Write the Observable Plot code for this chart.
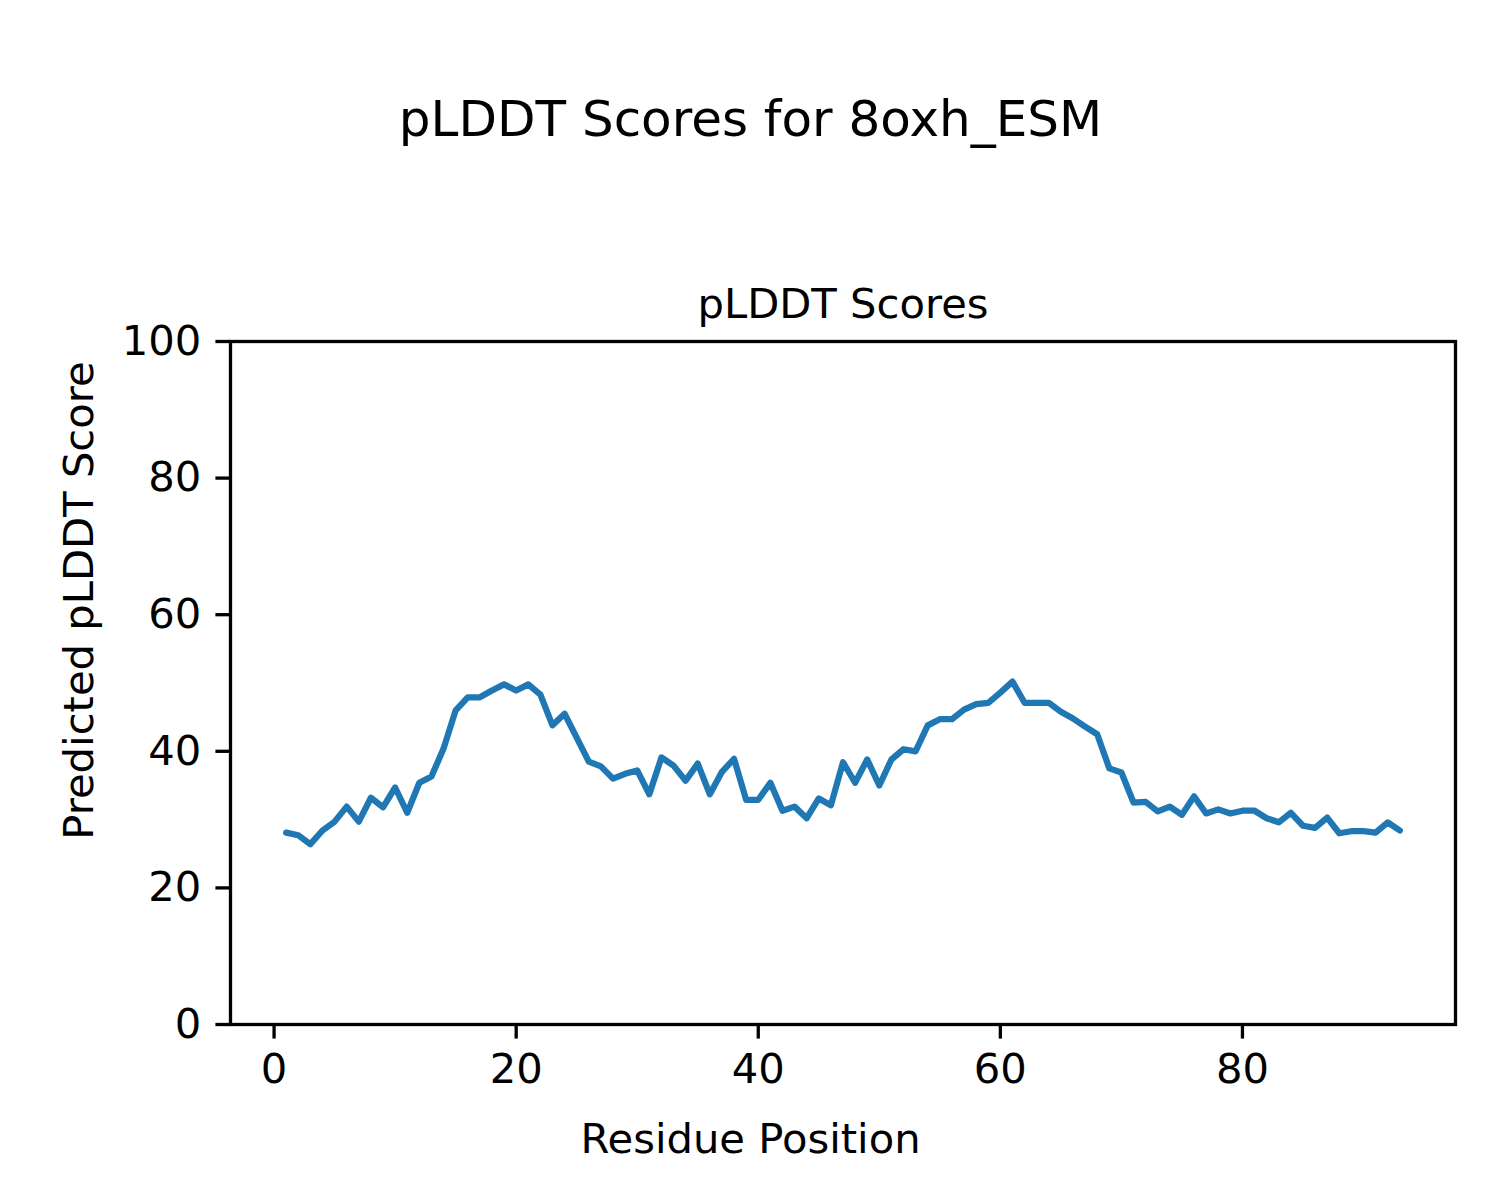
<!DOCTYPE html>
<html>
<head>
<meta charset="utf-8">
<script src="https://cdn.jsdelivr.net/npm/d3@7"></script>
<script src="https://cdn.jsdelivr.net/npm/@observablehq/plot@0.6"></script>
<style>
  html, body { margin: 0; padding: 0; background: #fff; }
  #chart svg { display: block; }
</style>
</head>
<body>
<div id="chart"></div>
<script>
// ---- data ----
const figureTitle = "pLDDT Scores for 8oxh_ESM";
const axesTitle = "pLDDT Scores";
const xLabel = "Residue Position";
const yLabel = "Predicted pLDDT Score";
const xTicks = [0, 20, 40, 60, 80];
const yTicks = [0, 20, 40, 60, 80, 100];
const plddt = [
  28.1, 27.7, 26.4, 28.4, 29.7, 31.9, 29.7, 33.2, 31.8, 34.7,
  31.0, 35.4, 36.3, 40.4, 46.0, 47.9, 47.9, 48.9, 49.8, 48.9,
  49.8, 48.3, 43.8, 45.5, 42.0, 38.5, 37.8, 36.0, 36.7, 37.2,
  33.7, 39.1, 37.9, 35.7, 38.2, 33.7, 37.0, 38.9, 32.9, 32.9,
  35.4, 31.3, 31.9, 30.2, 33.1, 32.1, 38.4, 35.4, 38.8, 35.0,
  38.8, 40.3, 40.0, 43.8, 44.7, 44.7, 46.1, 46.9, 47.1, 48.6,
  50.2, 47.1, 47.1, 47.1, 45.8, 44.8, 43.6, 42.5, 37.5, 36.9,
  32.5, 32.6, 31.2, 31.9, 30.7, 33.4, 30.9, 31.5, 30.9, 31.3,
  31.3, 30.2, 29.6, 31.0, 29.1, 28.8, 30.3, 28.0, 28.3, 28.3,
  28.1, 29.6, 28.4
];
const residues = plddt.map((_, i) => i + 1);

// ---- chart ----
const data = residues.map((r, i) => ({residue: r, score: plddt[i]}));
const fs = 41.7;
const chart = Plot.plot({
  width: 1500,
  height: 1200,
  marginLeft: 230,
  marginRight: 45,
  marginTop: 341,
  marginBottom: 176,
  style: {fontFamily: "DejaVu Sans", fontSize: fs + "px", color: "#000", background: "#fff"},
  x: {domain: [-3.6, 97.6]},
  y: {domain: [0, 100]},
  marks: [
    Plot.axisX({ticks: xTicks, tickSize: 14.6, tickPadding: 14.6, strokeWidth: 3.3, fontSize: fs, label: null}),
    Plot.axisY({ticks: yTicks, tickSize: 14.6, tickPadding: 14.6, strokeWidth: 3.3, fontSize: fs, label: null}),
    Plot.line(data, {x: "residue", y: "score", stroke: "#1f77b4", strokeWidth: 6.25}),
    Plot.frame({stroke: "#000", strokeWidth: 3.3}),
    Plot.text([figureTitle], {frameAnchor: "top", dx: -92.5, dy: -206, lineAnchor: "bottom", textAnchor: "middle", fontSize: 50, fill: "#000"}),
    Plot.text([axesTitle], {frameAnchor: "top", dy: -24, lineAnchor: "bottom", textAnchor: "middle", fontSize: fs, fill: "#000"}),
    Plot.text([xLabel], {frameAnchor: "bottom", dx: -92.5, dy: 128, lineAnchor: "bottom", textAnchor: "middle", fontSize: fs, fill: "#000"}),
    Plot.text([yLabel], {frameAnchor: "left", dx: -138, dy: -82.5, rotate: -90, lineAnchor: "bottom", textAnchor: "middle", fontSize: fs, fill: "#000"})
  ]
});
document.getElementById("chart").appendChild(chart);
</script>
</body>
</html>
